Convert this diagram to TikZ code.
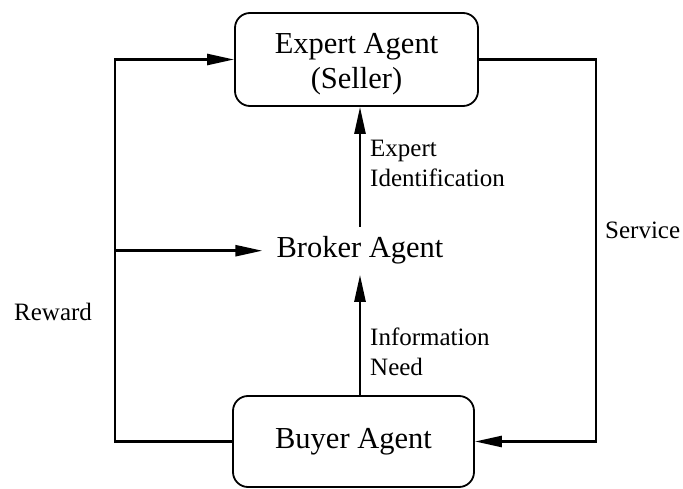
\documentclass[tikz,border=0pt]{standalone}
\usepackage{fontspec}
\setmainfont{Liberation Serif}
\usetikzlibrary{arrows.meta}
\begin{document}
\begin{tikzpicture}[x=1pt,y=-1pt,
  agent/.style={draw, line width=1.8pt, rounded corners=15pt, align=center,
    font=\fontsize{30.5}{35}\selectfont, inner sep=0pt},
  flow/.style={line width=2.5pt},
  arr/.style={flow, -{Triangle[length=27pt,width=11pt]}},
  tag/.style={font=\fontsize{25}{30}\selectfont, align=left, inner sep=0pt}]
\useasboundingbox (0,0) rectangle (683,489);

% agents
\node[agent, minimum width=243pt, minimum height=93pt] (expert) at (356.5,59.5)
  {\rule{0pt}{28.5pt}Expert Agent\\(Seller)};
\node[agent, minimum width=241pt, minimum height=91pt] (buyer) at (353.5,441.5)
  {Buyer Agent};
\node[font=\fontsize{30.5}{35}\selectfont, inner xsep=14pt, inner ysep=10pt, anchor=base]
  (broker) at (360,258) {Broker Agent};

% flow labels
\node[tag, anchor=north west] (idlab) at (370,140.4) {Expert\\Identification};
\node[tag, anchor=north west] (needlab) at (370,327.9) {Information\\Need};
\node[tag, anchor=base west] (service) at (605,239) {Service};
\node[tag, anchor=base west] (reward) at (14,320) {Reward};

% corner points of the outer loops
\coordinate (lt) at (115,59.5);
\coordinate (rt) at (596,59.5);

% reward loop on the left
\draw[arr] (buyer.west) -| (lt) -- (expert.west);
\draw[arr] (broker.west -| lt) -- (broker.west);

% service loop on the right
\draw[arr] (expert.east) -- (rt) |- (buyer.east);

% vertical flows through the broker
\draw[arr] (buyer.north -| broker.south) -- (broker.south);
\draw[arr] (broker.north) -- (broker.north |- expert.south);
\end{tikzpicture}
\end{document}
